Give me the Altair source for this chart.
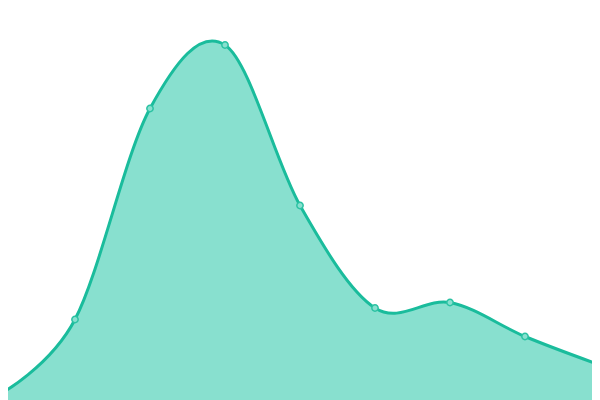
import altair as alt
import pandas as pd

xs = [0, 1, 2, 3, 4, 5, 6, 7, 8]
values = [6, 80.5, 291.5, 355, 194.5, 92, 97.5, 63.5, 35]

df = pd.DataFrame({"x": xs, "v": values})

x = alt.X("x:Q", axis=None, scale=alt.Scale(domain=[8 / 75, 592 / 75], nice=False, zero=False))
y = alt.Y("v:Q", axis=None, scale=alt.Scale(domain=[0, 392], nice=False, zero=False))

base = alt.Chart(df)
area = base.mark_area(interpolate="cardinal", color="#88e0cf", clip=True, opacity=1).encode(
    x=x, y=y, y2=alt.Y2(datum=0))
line = base.mark_line(interpolate="cardinal", color="#1abc9c", strokeWidth=3, clip=True).encode(x=x, y=y)
pts = base.mark_point(filled=True, fill="#88e0cf", stroke="#2cc2a3", strokeWidth=1.5,
                      size=40, opacity=1, clip=True).encode(x=x, y=y)

chart = (area + line + pts).properties(
    width=584, height=392, padding=0, autosize=alt.AutoSizeParams(type="none")
).configure_view(stroke=None)

chart.save("out.html", embed_options={"renderer": "svg", "actions": False})
